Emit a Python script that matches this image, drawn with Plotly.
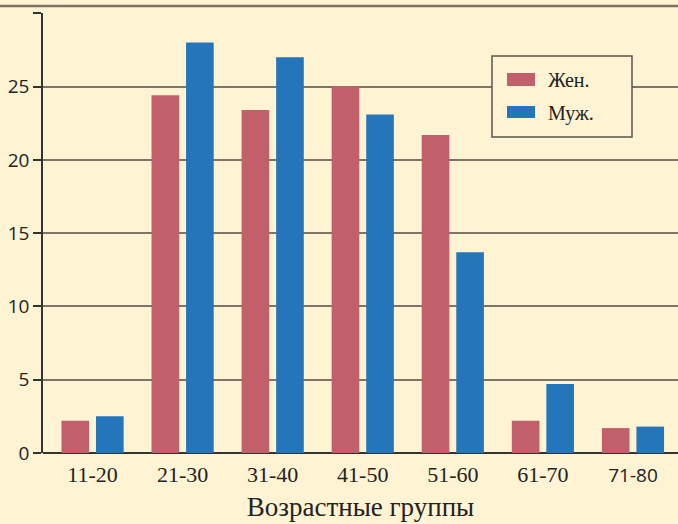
import plotly.graph_objects as go

categories = ["11-20", "21-30", "31-40", "41-50", "51-60", "61-70", "71-80"]
women = [2.2, 24.4, 23.4, 25.0, 21.7, 2.2, 1.7]
men = [2.5, 28.0, 27.0, 23.1, 13.7, 4.7, 1.8]
series_names = ["Жен.", "Муж."]
y_ticks = [0, 5, 10, 15, 20, 25, 30]
y_ticktext = ["0", "5", "10", "15", "20", "25", ""]

BG = "#fef3d3"
PINK = "#c1606b"
BLUE = "#2475b9"
GRID = "#7d7465"
SERIF = "Liberation Serif, Times New Roman, serif"
SANS = "Open Sans, Noto Sans, sans-serif"

x_ticktext = [c if c != "71-80" else f'<span style="font-family:{SANS};font-size:19px">{c}</span>'
              for c in categories]

fig = go.Figure()
fig.add_trace(go.Bar(x=categories, y=women, name=series_names[0], marker_color=PINK,
                     marker_line_width=0, showlegend=False))
fig.add_trace(go.Bar(x=categories, y=men, name=series_names[1], marker_color=BLUE,
                     marker_line_width=0, showlegend=False))

W, H = 678, 524
ml, mr, mt, mb = 43, 0, 13, 71
pw, ph = W - ml - mr, H - mt - mb

def px(x):
    return (x - ml) / pw

def py(y):
    return 1 - (y - mt) / ph

shapes = []
# top border line across the whole figure
shapes.append(dict(type="line", xref="paper", yref="paper", x0=px(0), x1=px(W), y0=py(6), y1=py(6),
                   line=dict(color=GRID, width=2.5), layer="above"))
# legend box
shapes.append(dict(type="rect", xref="paper", yref="paper", x0=px(492), x1=px(632), y0=py(137), y1=py(56),
                   line=dict(color="#5a5650", width=1.5), fillcolor=BG, layer="above"))
shapes.append(dict(type="rect", xref="paper", yref="paper", x0=px(507), x1=px(535), y0=py(86), y1=py(73),
                   line=dict(width=0), fillcolor=PINK, layer="above"))
shapes.append(dict(type="rect", xref="paper", yref="paper", x0=px(507), x1=px(535), y0=py(118), y1=py(106),
                   line=dict(width=0), fillcolor=BLUE, layer="above"))

annotations = [
    dict(xref="paper", yref="paper", x=px(546), y=py(80), text=series_names[0], showarrow=False,
         xanchor="left", yanchor="middle", font=dict(family=SERIF, size=20, color="#222")),
    dict(xref="paper", yref="paper", x=px(546), y=py(113), text=series_names[1], showarrow=False,
         xanchor="left", yanchor="middle", font=dict(family=SERIF, size=20, color="#222")),
]

fig.update_layout(
    width=W, height=H,
    margin=dict(l=ml, r=mr, t=mt, b=mb, pad=0, autoexpand=False),
    paper_bgcolor=BG, plot_bgcolor=BG,
    barmode="group", bargap=0.233, bargroupgap=0.2,
    shapes=shapes, annotations=annotations,
    showlegend=False,
    xaxis=dict(
        range=[-0.55, 6.5], tickmode="array", tickvals=categories, ticktext=x_ticktext,
        tickfont=dict(family=SERIF, size=22, color="#222"), ticks="", showgrid=False,
        showline=False, zeroline=False, automargin=False, ticklabelstandoff=6,
        title=dict(text="Возрастные группы", font=dict(family=SERIF, size=27, color="#222"), standoff=10),
    ),
    yaxis=dict(
        range=[0, 30.02], tickmode="array", tickvals=y_ticks, ticktext=y_ticktext,
        tickfont=dict(family=SANS, size=19, color="#222"),
        ticks="outside", ticklen=8, tickwidth=1.5, tickcolor="#333",
        showgrid=True, gridcolor=GRID, gridwidth=2,
        showline=True, linecolor="#333", linewidth=1.5,
        zeroline=True, zerolinecolor="#333", zerolinewidth=1.5, automargin=False,
    ),
)

fig.write_html("out.html", config={"displayModeBar": False},
               post_script="document.body.style.margin='0';document.body.style.background='%s';" % BG)
